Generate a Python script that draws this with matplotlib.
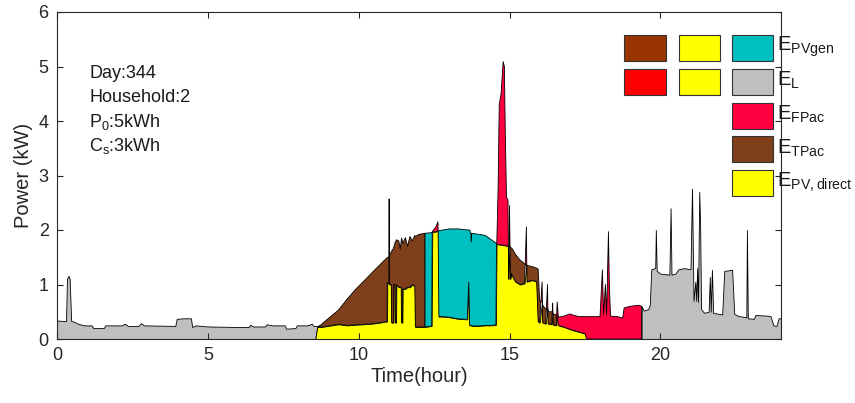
import numpy as np
import matplotlib
matplotlib.use("Agg")
import matplotlib.pyplot as plt
from matplotlib.patches import Rectangle

plt.rcParams['font.family'] = ['Liberation Sans', 'DejaVu Sans']
plt.rcParams['mathtext.fontset'] = 'custom'
plt.rcParams['mathtext.rm'] = 'Liberation Sans'

# night load before sunrise (kW), PV is zero
t_night = [0.00, 0.25, 0.30, 0.33, 0.38, 0.42, 0.47, 0.55, 0.70, 0.90, 1.15, 1.20,
           1.55, 1.60, 2.15, 2.25, 2.35, 2.70, 2.78, 2.88, 3.92, 3.97, 4.20, 4.44,
           4.48, 4.60, 5.00, 6.00, 6.35, 6.40, 6.50, 6.90, 6.95, 7.15, 7.55, 7.60,
           7.90, 7.95, 8.30, 8.45, 8.50]
load_night = [0.34, 0.33, 0.33, 1.10, 1.16, 1.10, 0.33, 0.32, 0.28, 0.25, 0.25, 0.20,
              0.20, 0.25, 0.25, 0.28, 0.24, 0.24, 0.29, 0.25, 0.24, 0.37, 0.38, 0.38,
              0.22, 0.25, 0.23, 0.22, 0.22, 0.26, 0.23, 0.23, 0.27, 0.25, 0.25, 0.19,
              0.20, 0.25, 0.25, 0.28, 0.24]

# daytime: load and PV generation (kW)
t_day = [8.56, 8.62, 8.75, 9.00, 9.33, 9.60, 9.88, 10.15, 10.43, 10.70, 10.90, 10.94,
         10.95, 11.00, 11.01, 11.02, 11.08, 11.09, 11.15, 11.16, 11.20, 11.21, 11.24,
         11.25, 11.33, 11.38, 11.41, 11.42, 11.45, 11.46, 11.55, 11.62, 11.70, 11.78,
         11.86, 11.88, 12.00, 12.20, 12.42, 12.44, 12.55, 12.63, 12.66, 12.80, 13.00,
         13.30, 13.60, 13.65, 13.68, 13.72, 13.73, 13.75, 14.00, 14.20, 14.40, 14.55,
         14.57, 14.58, 14.62, 14.66, 14.72, 14.79, 14.83, 14.86, 14.90, 14.95, 14.97,
         15.00, 15.03, 15.06, 15.10, 15.20, 15.35, 15.50, 15.56, 15.58, 15.75, 15.90,
         15.95, 16.00, 16.08, 16.10, 16.20, 16.26, 16.28, 16.40, 16.43, 16.45, 16.55,
         16.58, 16.62, 16.80, 17.00, 17.10, 17.30, 17.50, 17.56]
load_day = [0.24, 0.24, 0.22, 0.24, 0.27, 0.25, 0.26, 0.27, 0.28, 0.30, 0.32, 0.32,
            1.03, 1.02, 2.57, 1.00, 1.00, 0.30, 0.30, 1.00, 1.00, 0.30, 0.30,
            1.00, 0.95, 0.95, 0.95, 0.30, 0.30, 0.92, 0.92, 0.95, 0.95, 1.00,
            0.97, 0.22, 0.22, 0.22, 0.24, 1.97, 2.05, 2.15, 0.41, 0.41, 0.40,
            0.37, 0.36, 1.05, 0.25, 0.25, 0.25, 0.24, 0.24, 0.25, 0.25, 0.26,
            1.74, 1.80, 2.70, 4.30, 4.50, 5.09, 5.00, 3.80, 2.60, 2.55, 1.10,
            2.45, 1.10, 1.20, 1.15, 1.05, 1.00, 1.02, 2.06, 1.05, 1.08, 1.05,
            0.32, 0.30, 1.05, 0.30, 0.28, 1.00, 0.28, 0.27, 0.66, 0.26, 0.25,
            0.68, 0.40, 0.42, 0.46, 0.44, 0.41, 0.41, 0.41]
pv_day = [0.00, 0.22, 0.26, 0.38, 0.53, 0.72, 0.90, 1.05, 1.21, 1.36, 1.47, 1.49,
          1.49, 1.50, 1.51, 1.52, 1.60, 1.61, 1.66, 1.68, 1.75, 1.78, 1.80,
          1.82, 1.80, 1.65, 1.80, 1.85, 1.80, 1.75, 1.86, 1.70, 1.88, 1.80,
          1.90, 1.88, 1.92, 1.94, 1.95, 1.96, 1.97, 1.98, 1.99, 2.00, 2.02,
          2.02, 2.00, 2.00, 2.00, 1.94, 1.78, 1.94, 1.92, 1.90, 1.82, 1.76,
          1.74, 1.74, 1.74, 1.73, 1.73, 1.72, 1.72, 1.72, 1.71, 1.70, 1.70,
          1.70, 1.69, 1.67, 1.65, 1.55, 1.45, 1.38, 1.36, 1.35, 1.33, 1.30,
          1.28, 0.70, 0.68, 0.62, 0.55, 0.55, 0.50, 0.50, 0.48, 0.45, 0.45,
          0.42, 0.25, 0.22, 0.18, 0.16, 0.13, 0.10, 0.00]

# evening load (kW), PV is zero
t_eve = [17.70, 18.00, 18.08, 18.12, 18.18, 18.22, 18.28, 18.31, 18.35, 18.60, 18.75,
         18.80, 19.00, 19.30, 19.38, 19.45, 19.60, 19.65, 19.70, 19.83, 19.85, 19.88,
         20.00, 20.30, 20.34, 20.37, 20.50, 20.60, 20.80, 21.00, 21.05, 21.10, 21.16,
         21.19, 21.22, 21.25, 21.29, 21.32, 21.35, 21.45, 21.60, 21.64, 21.67, 21.71,
         21.75, 22.05, 22.12, 22.38, 22.45, 22.60, 22.85, 22.87, 22.90, 23.10, 23.15,
         23.50, 23.65, 23.75, 23.85, 23.92, 24.00]
load_eve = [0.41, 0.41, 1.27, 0.45, 1.00, 0.45, 1.97, 1.00, 0.42, 0.41, 0.38,
            0.57, 0.60, 0.62, 0.60, 0.52, 0.55, 0.63, 1.28, 1.30, 2.00, 1.25,
            1.20, 1.18, 2.40, 1.18, 1.20, 1.28, 1.30, 1.28, 2.76, 0.70, 1.05,
            0.70, 1.30, 0.68, 2.70, 2.09, 0.55, 0.48, 0.50, 1.14, 0.50, 1.27,
            0.48, 0.45, 1.25, 1.27, 0.46, 0.42, 0.40, 2.00, 0.38, 0.37, 0.44,
            0.43, 0.42, 0.25, 0.24, 0.38, 0.38]

# colours
c_pvgen = '#00BFBF'
c_load = '#BFBFBF'
c_fpac = '#FF0040'
c_tpac = '#7E3F1A'
c_direct = '#FFFF00'

# which flow covers the surplus / deficit in each time span
surplus_spans = [(8.56, 12.20, c_tpac), (12.20, 14.57, c_pvgen), (14.57, 17.56, c_tpac)]
deficit_spans = [(0.00, 8.75, c_load), (8.75, 19.38, c_fpac), (19.38, 24.00, c_load)]

t = np.array(t_night + t_day + t_eve)
load = np.array(load_night + load_day + load_eve)
pv = np.concatenate([np.zeros(len(t_night)), pv_day, np.zeros(len(t_eve))])

fig = plt.figure(figsize=(8.55, 4.03), dpi=100)
ax = fig.add_axes([57 / 855, 1 - 339 / 403, 724 / 855, 327 / 403])

edge = dict(edgecolor='black', linewidth=0.6)

day = (t >= 8.56) & (t <= 17.56)
ax.fill_between(t[day], 0, np.minimum(load, pv)[day], facecolor=c_direct, **edge)

for t0, t1, col in surplus_spans:
    s = (t >= t0) & (t <= t1)
    ax.fill_between(t[s], load[s], pv[s], where=pv[s] >= load[s], interpolate=True,
                    facecolor=col, **edge)

for t0, t1, col in deficit_spans:
    s = (t >= t0) & (t <= t1)
    lo = pv[s]
    ax.fill_between(t[s], lo, load[s], where=load[s] >= lo, interpolate=True,
                    facecolor=col, **edge)

ax.set_xlim(0, 24)
ax.set_ylim(0, 6)
ax.set_xticks([0, 5, 10, 15, 20])
ax.set_yticks(range(7))
ax.tick_params(direction='in', top=True, right=True, labelsize=13, length=4,
               color='#262626', labelcolor='#262626', pad=6)
for sp in ax.spines.values():
    sp.set_color('#262626')
    sp.set_linewidth(0.8)
ax.set_xlabel('Time(hour)', fontsize=14.5, color='#262626', labelpad=2)
ax.set_ylabel('Power (kW)', fontsize=14.5, color='#262626', labelpad=4)

# info text
info = ['Day:344', 'Household:2', r'P$_0$:5kWh', r'C$_\mathregular{s}$:3kWh']
for i, s in enumerate(info):
    fig.text(89 / 855, 1 - (73 + 24.5 * i) / 403, s, fontsize=13, va='center',
             color='#1a1a1a')

# legend (drawn by hand, MATLAB style)
H = 403.0
def box(x0, y0, x1, y1, col):
    fig.add_artist(Rectangle((x0 / 855, 1 - y1 / H), (x1 - x0) / 855, (y1 - y0) / H,
                             transform=fig.transFigure, facecolor=col,
                             edgecolor='#333333', linewidth=0.8))

extra_cols = [(624, 666, ['#993300', '#FF0000']), (679, 720, [c_direct, c_direct])]
for x0, x1, cols in extra_cols:
    for j, col in enumerate(cols):
        y0 = 35 + 34 * j
        box(x0, y0, x1, y0 + 26, col)

leg_colors = [c_pvgen, c_load, c_fpac, c_tpac, c_direct]
leg_labels = [r'E$_\mathregular{PVgen}$', r'E$_\mathregular{L}$', r'E$_\mathregular{FPac}$',
              r'E$_\mathregular{TPac}$', r'E$_\mathregular{PV,direct}$']
for j, (col, lab) in enumerate(zip(leg_colors, leg_labels)):
    y0 = 35 + 33.8 * j
    box(732, y0, 773, y0 + 26, col)
    fig.text(777 / 855, 1 - (y0 + 12) / H, lab, fontsize=14.5, va='center',
             color='#1a1a1a')

fig.savefig('out.png', dpi=100)
